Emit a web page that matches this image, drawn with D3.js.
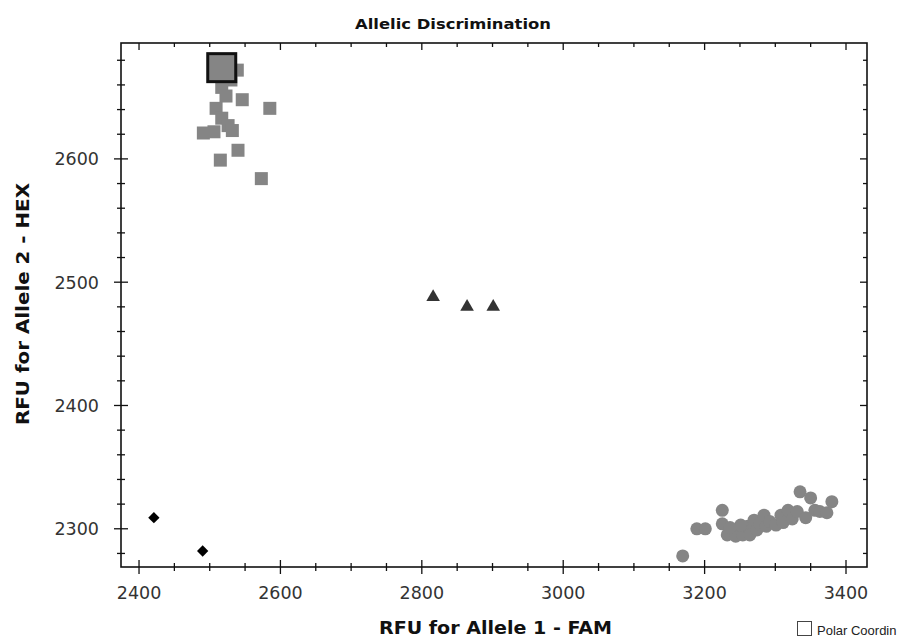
<!DOCTYPE html>
<html lang="en">
  <head>
    <meta charset="utf-8">
    <title>Allelic Discrimination</title>
    <script src="https://d3js.org/d3.v7.js"></script>
    <style>
    body { margin: 0; background: white; }
    text { font-family: "DejaVu Sans", Verdana, sans-serif; }
    .tick-label { font-size: 17.5px; fill: #333; }
    .axis-title { font-size: 17px; font-weight: bold; fill: #111; }
    </style>
  </head>
  <body>
  <script>

  var w = 897;
  var h = 642;
  var margin = {top: 43, right: 30, bottom: 75, left: 121};

  // Allele 1 (FAM) vs Allele 2 (HEX) RFU, one array per call group
  var allele2X = [2539, 2530, 2517, 2523, 2546, 2585, 2509, 2517, 2526, 2491, 2506, 2532, 2540, 2515, 2573];
  var allele2Y = [2672, 2664, 2658, 2651, 2648, 2641, 2641, 2633, 2627, 2621, 2622, 2623, 2607, 2599, 2584];

  var selectedX = [2517];
  var selectedY = [2674];

  var hetX = [2816, 2864, 2901];
  var hetY = [2488, 2480, 2480];

  var ntcX = [2421, 2490];
  var ntcY = [2309, 2282];

  var allele1X = [3169, 3189, 3201, 3225, 3225, 3232, 3242, 3244, 3254, 3261, 3264, 3270, 3274, 3278, 3284, 3287,
                  3292, 3301, 3308, 3311, 3318, 3324, 3331, 3335, 3343, 3350, 3356, 3363, 3373, 3380, 3251, 3236];
  var allele1Y = [2278, 2300, 2300, 2315, 2304, 2295, 2299, 2294, 2295, 2302, 2295, 2307, 2299, 2304, 2311, 2302,
                  2306, 2303, 2311, 2305, 2315, 2308, 2314, 2330, 2309, 2325, 2315, 2314, 2313, 2322, 2303, 2301];

  var xTicks = [2400, 2600, 2800, 3000, 3200, 3400];
  var yTicks = [2300, 2400, 2500, 2600];

  var xScale = d3.scaleLinear()
      .domain([2374.5, 3429.7])
      .range([margin.left, w - margin.right]);

  var yScale = d3.scaleLinear()
      .domain([2269, 2694])
      .range([h - margin.bottom, margin.top]);

  var x0 = xScale.range()[0], x1 = xScale.range()[1];
  var y0 = yScale.range()[1], y1 = yScale.range()[0];

  var svg = d3.select("body")
      .append("svg")
      .attr("width", w)
      .attr("height", h);

  var xMinor = d3.range(2400, 3401, 50);
  var yMinor = d3.range(2280, 2681, 20);

  function drawTicks(g, vals, scale, horiz, pos, out, inn, cls) {
    g.selectAll("." + cls)
      .data(vals)
      .join("line")
      .attr("class", cls)
      .attr("x1", d => horiz ? scale(d) : pos - out)
      .attr("x2", d => horiz ? scale(d) : pos + inn)
      .attr("y1", d => horiz ? pos - inn : scale(d))
      .attr("y2", d => horiz ? pos + out : scale(d))
      .attr("stroke", "#111")
      .attr("stroke-width", 1.3);
  }

  var axes = svg.append("g");
  var minorX = xMinor.filter(v => xTicks.indexOf(v) < 0);
  var minorY = yMinor.filter(v => yTicks.indexOf(v) < 0);

  // bottom + left: ticks cross the line
  drawTicks(axes, xTicks, xScale, true, y1, 7, 7, "xb-maj");
  drawTicks(axes, minorX, xScale, true, y1, 4, 4, "xb-min");
  drawTicks(axes, yTicks, yScale, false, x0, 7, 7, "yl-maj");
  drawTicks(axes, minorY, yScale, false, x0, 4, 4, "yl-min");
  // top + right: inward ticks only
  drawTicks(axes, xTicks, xScale, true, y0, 0, -7, "xt-maj");
  drawTicks(axes, minorX, xScale, true, y0, 0, -4, "xt-min");
  drawTicks(axes, yTicks, yScale, false, x1, 7, 0, "yr-maj");
  drawTicks(axes, minorY, yScale, false, x1, 4, 0, "yr-min");

  svg.append("rect")
     .attr("x", x0)
     .attr("y", y0)
     .attr("width", x1 - x0)
     .attr("height", y1 - y0)
     .attr("fill", "none")
     .attr("stroke", "#111")
     .attr("stroke-width", 1.6);

  svg.selectAll(".xlab")
     .data(xTicks)
     .join("text")
     .attr("class", "tick-label")
     .attr("x", d => xScale(d))
     .attr("y", y1 + 32)
     .attr("text-anchor", "middle")
     .text(d => d);

  svg.selectAll(".ylab")
     .data(yTicks)
     .join("text")
     .attr("class", "tick-label")
     .attr("x", x0 - 22)
     .attr("y", d => yScale(d) + 6.5)
     .attr("text-anchor", "end")
     .text(d => d);

  svg.append("text")
     .attr("x", 355)
     .attr("y", 29)
     .style("font-size", "14px")
     .style("font-weight", "bold")
     .attr("fill", "#111")
     .attr("textLength", 196)
     .attr("lengthAdjust", "spacingAndGlyphs")
     .text("Allelic Discrimination");

  svg.append("text")
     .attr("class", "axis-title")
     .attr("x", 379)
     .attr("y", 634)
     .attr("textLength", 233)
     .attr("lengthAdjust", "spacingAndGlyphs")
     .text("RFU for Allele 1 - FAM");

  svg.append("text")
     .attr("class", "axis-title")
     .attr("transform", "translate(29, 425) rotate(-90)")
     .attr("textLength", 242)
     .attr("lengthAdjust", "spacingAndGlyphs")
     .text("RFU for Allele 2 - HEX");

  // Polar coordinates checkbox (label cut by the window edge in the original)
  svg.append("rect")
     .attr("x", 797.5)
     .attr("y", 621.5)
     .attr("width", 14)
     .attr("height", 14)
     .attr("fill", "white")
     .attr("stroke", "#444")
     .attr("stroke-width", 1);
  svg.append("text")
     .attr("x", 817)
     .attr("y", 635)
     .style("font-family", "'Liberation Sans', Arial, sans-serif")
     .style("font-size", "13px")
     .attr("fill", "#222")
     .text("Polar Coordin");

  var plot = svg.append("g");

  // Allele 1 cluster (circles)
  plot.selectAll(".a1")
     .data(d3.range(allele1X.length))
     .join("circle")
     .attr("class", "a1")
     .attr("cx", i => xScale(allele1X[i]))
     .attr("cy", i => yScale(allele1Y[i]))
     .attr("r", 6.5)
     .attr("fill", "#858585");

  // Allele 2 cluster (squares)
  var sq = 13;
  plot.selectAll(".a2")
     .data(d3.range(allele2X.length))
     .join("rect")
     .attr("class", "a2")
     .attr("x", i => xScale(allele2X[i]) - sq / 2)
     .attr("y", i => yScale(allele2Y[i]) - sq / 2)
     .attr("width", sq)
     .attr("height", sq)
     .attr("fill", "#858585");

  // heterozygotes (triangles)
  plot.selectAll(".het")
     .data(d3.range(hetX.length))
     .join("path")
     .attr("class", "het")
     .attr("transform", i => `translate(${xScale(hetX[i])}, ${yScale(hetY[i])})`)
     .attr("d", d3.symbol().type(d3.symbolTriangle).size(80))
     .attr("fill", "#333");

  // NTC (diamonds)
  plot.selectAll(".ntc")
     .data(d3.range(ntcX.length))
     .join("path")
     .attr("class", "ntc")
     .attr("transform", i => `translate(${xScale(ntcX[i])}, ${yScale(ntcY[i])}) rotate(45)`)
     .attr("d", d3.symbol().type(d3.symbolSquare).size(64))
     .attr("fill", "#000");

  // selected well
  var big = 28;
  plot.selectAll(".sel")
     .data(d3.range(selectedX.length))
     .join("rect")
     .attr("class", "sel")
     .attr("x", i => xScale(selectedX[i]) - big / 2)
     .attr("y", i => yScale(selectedY[i]) - big / 2)
     .attr("width", big)
     .attr("height", big)
     .attr("fill", "#858585")
     .attr("stroke", "#111")
     .attr("stroke-width", 3);

  </script>
  </body>
</html>
